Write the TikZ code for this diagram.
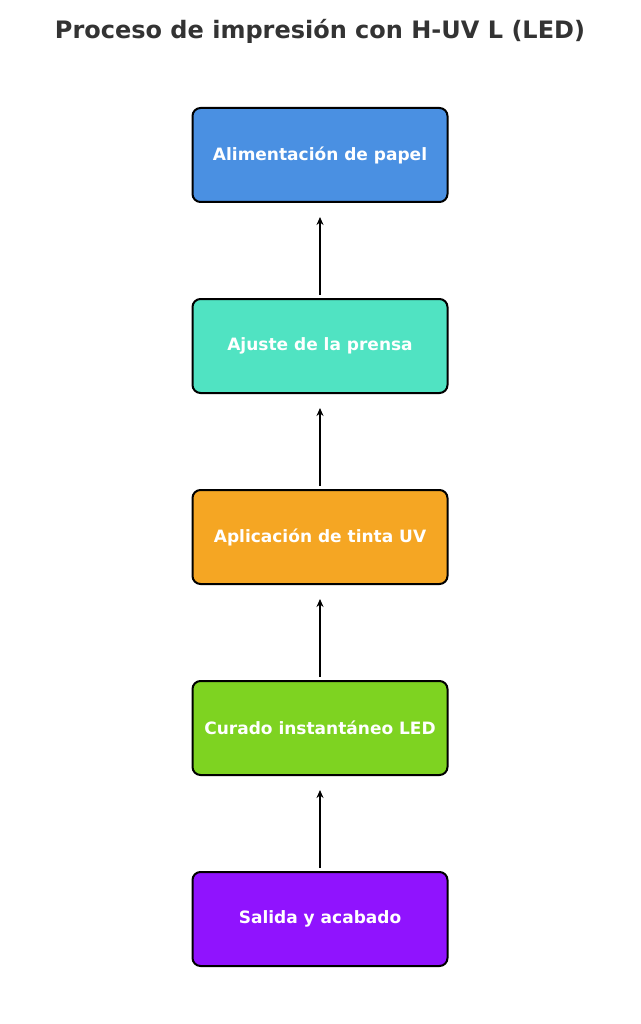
\documentclass[tikz,border=0pt]{standalone}
\usepackage{fontspec}
\setmainfont{DejaVu Sans}
\usetikzlibrary{arrows.meta}
\definecolor{cA}{HTML}{4A90E2}
\definecolor{cB}{HTML}{50E3C2}
\definecolor{cC}{HTML}{F5A623}
\definecolor{cD}{HTML}{7ED321}
\definecolor{cE}{HTML}{9013FE}
\definecolor{tit}{HTML}{333333}
\begin{document}
\begin{tikzpicture}[x=1pt,y=-1pt,
  box/.style={draw=black,line width=2pt,rounded corners=8pt,minimum width=255pt,minimum height=94pt,text=white,font=\bfseries\fontsize{17}{20}\selectfont,inner sep=0pt},
  arr/.style={-{Stealth[length=8pt,width=7pt]},line width=2pt,shorten >=14pt,shorten <=3pt}]
\useasboundingbox (0,0) rectangle (640,1024);
\node[font=\bfseries\fontsize{24}{28}\selectfont,text=tit] (t) at (320,31) {Proceso de impresión con H-UV L (LED)};
\node[box,fill=cA] (a) at (320,155) {Alimentación de papel};
\node[box,fill=cB] (b) at (320,346) {Ajuste de la prensa};
\node[box,fill=cC] (c) at (320,537) {Aplicación de tinta UV};
\node[box,fill=cD] (d) at (320,728) {Curado instantáneo LED};
\node[box,fill=cE] (e) at (320,919) {Salida y acabado};
\draw[arr] (b) -- (a);
\draw[arr] (c) -- (b);
\draw[arr] (d) -- (c);
\draw[arr] (e) -- (d);
\end{tikzpicture}
\end{document}
